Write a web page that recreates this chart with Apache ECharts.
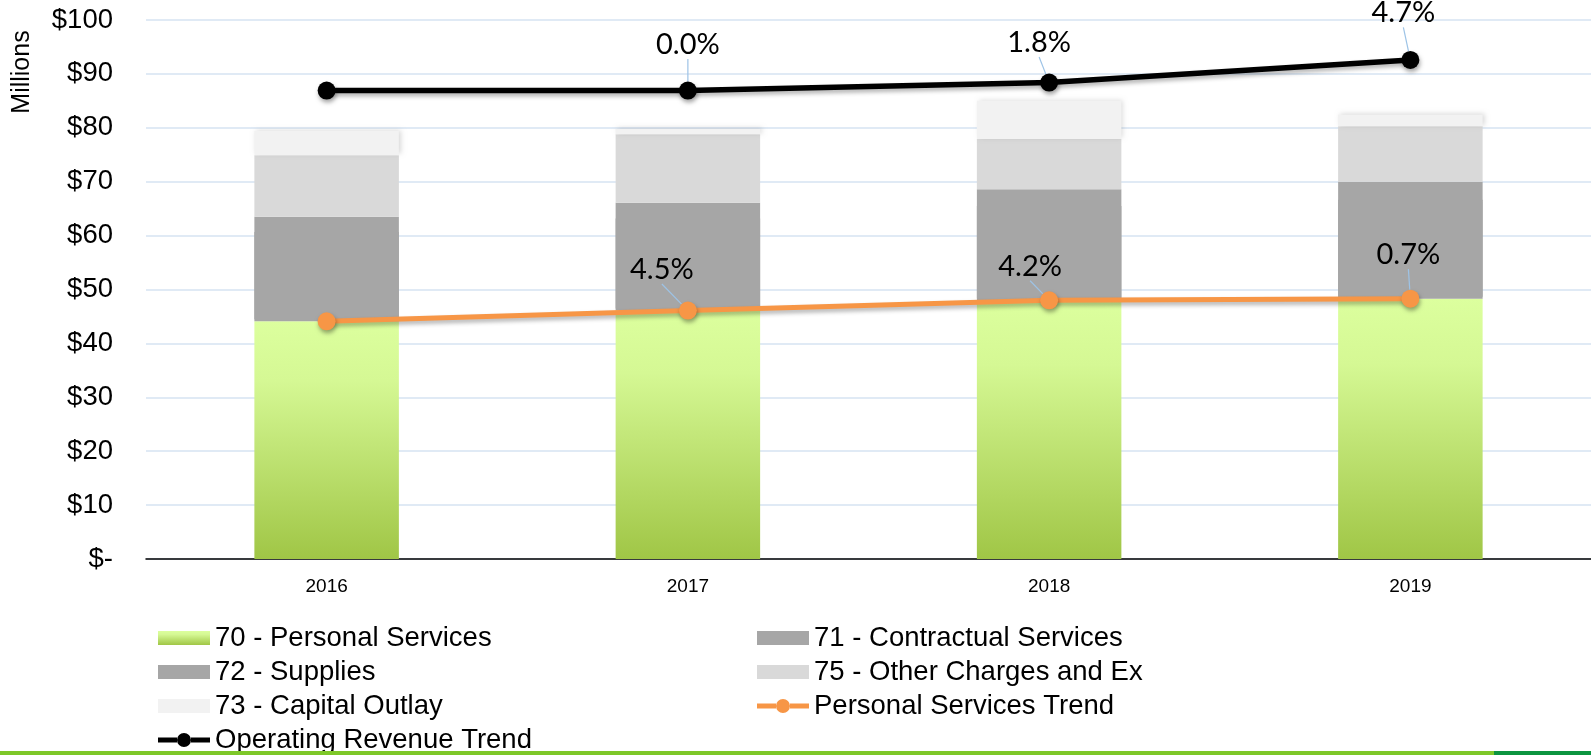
<!DOCTYPE html>
<html>
<head>
<meta charset="utf-8">
<script src="https://cdn.jsdelivr.net/npm/echarts@6/dist/echarts.min.js"></script>
<style>
html,body{margin:0;padding:0;background:#fff;}
#c{width:1591px;height:755px;}
</style>
</head>
<body>
<div id="c"></div>
<script>
// ---- data ----
var years = ['2016', '2017', '2018', '2019'];
var personalServices = [44.1, 46.1, 48.0, 48.3];
var contractualServices = [16.2, 16.7, 17.1, 18.0];
var supplies = [3.2, 3.3, 3.5, 3.7];
var otherCharges = [11.4, 12.7, 9.3, 10.3];
var capitalOutlay = [4.5, 1.0, 7.1, 2.1];
var personalTrend = [44.1, 46.1, 48.0, 48.3];
var operatingRevenue = [86.9, 86.9, 88.4, 92.6];
var personalGrowthLabels = ['', '4.5%', '4.2%', '0.7%'];
var operatingGrowthLabels = ['', '0.0%', '1.8%', '4.7%'];
var yTicks = [0, 10, 20, 30, 40, 50, 60, 70, 80, 90, 100];

// label offsets (style only)
var opOffsets = [[0, 0], [0, -46], [-10, -40], [-7, -47]];
var psOffsets = [[0, 0], [-26, -41], [-19, -34], [-2, -44]];

var chart = echarts.init(document.getElementById('c'), null, {renderer: 'canvas'});

var greenGrad = new echarts.graphic.LinearGradient(0, 0, 0, 1, [
  {offset: 0, color: '#dcff9e'},
  {offset: 0.25, color: '#d5f894'},
  {offset: 1, color: '#a0c646'}
]);

var labelFont = 'Lato, "Open Sans", sans-serif';
var lineIcon = 'path://M0,4.5h19v5H0z M33,4.5h19v5H33z M19,7a7,7 0 1,0 14,0a7,7 0 1,0 -14,0z';
var legendText = {color: '#000', fontSize: 27.5, lineHeight: 34, fontFamily: 'Liberation Sans, Arial, sans-serif'};

var option = {
  animation: false,
  backgroundColor: '#ffffff',
  grid: {left: 146, top: 20, width: 1447, height: 539, containLabel: false},
  xAxis: {
    type: 'category',
    data: years,
    axisTick: {show: false},
    axisLine: {lineStyle: {color: '#000', width: 1.5}},
    axisLabel: {color: '#000', fontSize: 19, fontFamily: 'Liberation Sans, Arial, sans-serif', margin: 18}
  },
  yAxis: {
    type: 'value',
    min: yTicks[0],
    max: yTicks[yTicks.length - 1],
    interval: yTicks[1] - yTicks[0],
    axisLine: {show: false},
    axisTick: {show: false},
    splitLine: {lineStyle: {color: '#d6e3f2', width: 1.5}},
    axisLabel: {
      color: '#000', fontSize: 27.5, fontFamily: 'Liberation Sans, Arial, sans-serif', margin: 33,
      formatter: function (v) { return v === 0 ? '$-' : '$' + v; }
    }
  },
  legend: [
    {
      orient: 'vertical', left: 158, top: 621, padding: 0, itemGap: 0,
      itemWidth: 52, itemHeight: 14, textStyle: legendText, icon: 'rect',
      data: ['70 - Personal Services', '72 - Supplies', '73 - Capital Outlay']
    },
    {
      orient: 'vertical', left: 158, top: 723, padding: 0, itemGap: 0,
      itemWidth: 52, itemHeight: 14, textStyle: legendText,
      data: [{name: 'Operating Revenue Trend', icon: lineIcon}]
    },
    {
      orient: 'vertical', left: 757, top: 621, padding: 0, itemGap: 0,
      itemWidth: 52, itemHeight: 14, textStyle: legendText,
      data: [{name: '71 - Contractual Services', icon: 'rect'}, {name: '75 - Other Charges and Ex', icon: 'rect'}, {name: 'Personal Services Trend', icon: lineIcon}]
    }
  ],
  graphic: [
    {type: 'text', x: 22, y: 72, rotation: Math.PI / 2, z: 10,
      style: {text: 'Millions', fill: '#000', font: '25px "Liberation Sans", Arial, sans-serif', align: 'center', verticalAlign: 'middle'}},
    {type: 'rect', z: 100, shape: {x: 0, y: 751, width: 1494, height: 4}, style: {fill: '#7ec829'}},
    {type: 'rect', z: 100, shape: {x: 1494, y: 751, width: 97, height: 4}, style: {fill: '#0c9540'}}
  ],
  series: [
    {name: '70 - Personal Services', type: 'bar', stack: 'exp', barWidth: '40%', data: personalServices, itemStyle: {color: greenGrad}},
    {name: '71 - Contractual Services', type: 'bar', stack: 'exp', data: contractualServices,
      itemStyle: {color: '#a6a6a6', shadowColor: '#a6a6a6', shadowBlur: 0, shadowOffsetX: 0, shadowOffsetY: -2}},
    {name: '72 - Supplies', type: 'bar', stack: 'exp', data: supplies, itemStyle: {color: '#a6a6a6'}},
    {name: '75 - Other Charges and Ex', type: 'bar', stack: 'exp', data: otherCharges, itemStyle: {color: '#d9d9d9'}},
    {name: '73 - Capital Outlay', type: 'bar', stack: 'exp', data: capitalOutlay, itemStyle: {color: '#f2f2f2', shadowBlur: 5, shadowOffsetX: 2, shadowOffsetY: -1, shadowColor: 'rgba(0,0,0,0.15)'}},
    {
      name: 'Personal Services Trend', type: 'line', data: personalTrend, z: 5,
      symbol: 'circle', symbolSize: 18,
      lineStyle: {color: '#f79646', width: 5, shadowBlur: 4, shadowOffsetY: 3, shadowColor: 'rgba(0,0,0,0.3)'},
      itemStyle: {color: '#f79646', shadowBlur: 4, shadowOffsetX: 1, shadowOffsetY: 3, shadowColor: 'rgba(0,0,0,0.35)'},
      label: {show: true, position: 'inside', color: '#000', fontSize: 29, fontFamily: labelFont,
        formatter: function (p) { return personalGrowthLabels[p.dataIndex]; }},
      labelLine: {show: true, lineStyle: {color: '#9dc3e6', width: 1.2}},
      labelLayout: function (p) { var o = psOffsets[p.dataIndex]; return {dx: o[0], dy: o[1]}; }
    },
    {
      name: 'Operating Revenue Trend', type: 'line', data: operatingRevenue, z: 5,
      symbol: 'circle', symbolSize: 18,
      lineStyle: {color: '#000', width: 5.5, shadowBlur: 4, shadowOffsetY: 3, shadowColor: 'rgba(0,0,0,0.3)'},
      itemStyle: {color: '#000', shadowBlur: 4, shadowOffsetX: 1, shadowOffsetY: 3, shadowColor: 'rgba(0,0,0,0.35)'},
      label: {show: true, position: 'inside', color: '#000', fontSize: 29, fontFamily: labelFont,
        formatter: function (p) { return operatingGrowthLabels[p.dataIndex]; }},
      labelLine: {show: true, lineStyle: {color: '#9dc3e6', width: 1.2}},
      labelLayout: function (p) { var o = opOffsets[p.dataIndex]; return {dx: o[0], dy: o[1]}; }
    }
  ]
};
chart.setOption(option);
</script>
</body>
</html>
